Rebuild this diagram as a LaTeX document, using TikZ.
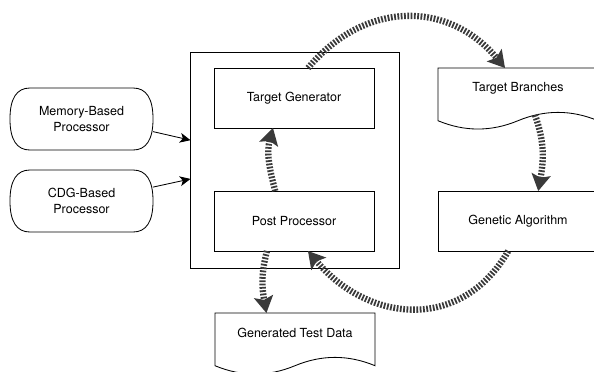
\documentclass[tikz,border=0pt]{standalone}
\usepackage{fontspec}
\setmainfont{TeX Gyre Heros}
\usepackage{xcolor}
\usepackage{tikz}
\usetikzlibrary{calc}
\usetikzlibrary{arrows.meta}
\definecolor{hatch}{HTML}{3A3A3A}
\tikzset{
  box/.style={draw, line width=0.6pt, minimum width=4cm, minimum height=1.5cm, outer sep=0pt},
  procbox/.style={minimum width=3.575cm, minimum height=1.55cm, align=center, outer sep=0pt},
  docbox/.style={minimum width=4cm, minimum height=1cm, outer sep=0pt},
  hatched/.style={draw=hatch, line width=4.5pt, dash pattern=on 1.25pt off 1.1pt, -{Stealth[length=12pt, width=14pt, inset=2.5pt, line width=0pt]}}
}

\begin{document}
\begin{tikzpicture}[x=0.025cm, y=0.025cm, font=\fontsize{8.9}{11.2}\selectfont]
        \useasboundingbox (0,0) rectangle (594,-371);
        %OUTER BOX
        \node[draw, line width=0.7pt, minimum width=5.2cm, minimum height=5.375cm] (outer) at (295,-160.5) {};
        %BOXES
        \node[box] (tg) at (294,-98) {Target Generator};
        \node[box] (pp) at (294,-221) {Post Processor};
        \node[box] (ga) at (518,-221) {Genetic Algorithm};
        \node[procbox] (mem) at (81.5,-119) {Memory-Based\\Processor};
        \node[procbox] (cdg) at (81.5,-201) {CDG-Based\\Processor};
        \node[docbox] (tb) at (518,-88) {Target Branches};
        \node[docbox] (gtd) at (295,-333) {Generated Test Data};
        %PROCESSOR OUTLINE
        \foreach \d in {mem,cdg}
            \draw[line width=0.6pt] (\d.west) .. controls ($(\d.west)+(0,20.7)$) and ($(\d.north west)+(6.7,0)$) .. ($(\d.north west)+(20,0)$)
                -- ($(\d.north east)+(-20,0)$) .. controls ($(\d.north east)+(-6.7,0)$) and ($(\d.east)+(0,20.7)$) .. (\d.east)
                .. controls ($(\d.east)+(0,-20.7)$) and ($(\d.south east)+(-6.7,0)$) .. ($(\d.south east)+(-20,0)$)
                -- ($(\d.south west)+(20,0)$) .. controls ($(\d.south west)+(6.7,0)$) and ($(\d.west)+(0,-20.7)$) .. (\d.west) -- cycle;
        %DOCUMENT OUTLINE
        \foreach \d in {tb,gtd}
            \draw[line width=0.6pt] (\d.north west) -- (\d.north east) -- ($(\d.south east)+(0,-12.7)$)
                .. controls ($(\d.south west)+(133.3,-1.6)$) and ($(\d.south west)+(106.7,-1.6)$) .. ($(\d.south west)+(80,-12.7)$)
                .. controls ($(\d.south west)+(53.3,-23.8)$) and ($(\d.south west)+(26.7,-23.8)$) .. ($(\d.south west)+(0,-12.7)$) -- cycle;
        \coordinate (tbw) at ($(tb.south west)+(97,-7)$);
        %INPUT ARROWS
        \draw[line width=0.6pt, -{Stealth[length=7.5pt, width=7pt, inset=2pt]}] (mem.-10) -- (outer.169);
        \draw[line width=0.6pt, -{Stealth[length=7.5pt, width=7pt, inset=2pt]}] (cdg.11) -- (outer.190);
        %CURVED ARROWS
        \draw[hatched] (tg.65) to[out=50, in=130, looseness=1.15] (tb.123);
        \draw[hatched] (tbw) to[out=-70, in=80] (ga.56);
        \draw[hatched] (ga.-108) to[out=-120, in=-50, looseness=1.2] (pp.-65);
        \draw[hatched] (pp.-132) to[out=-105, in=100] (gtd.145);
        \draw[hatched] (pp.122) to[out=105, in=-105] (tg.-125);
    \end{tikzpicture}
\end{document}
